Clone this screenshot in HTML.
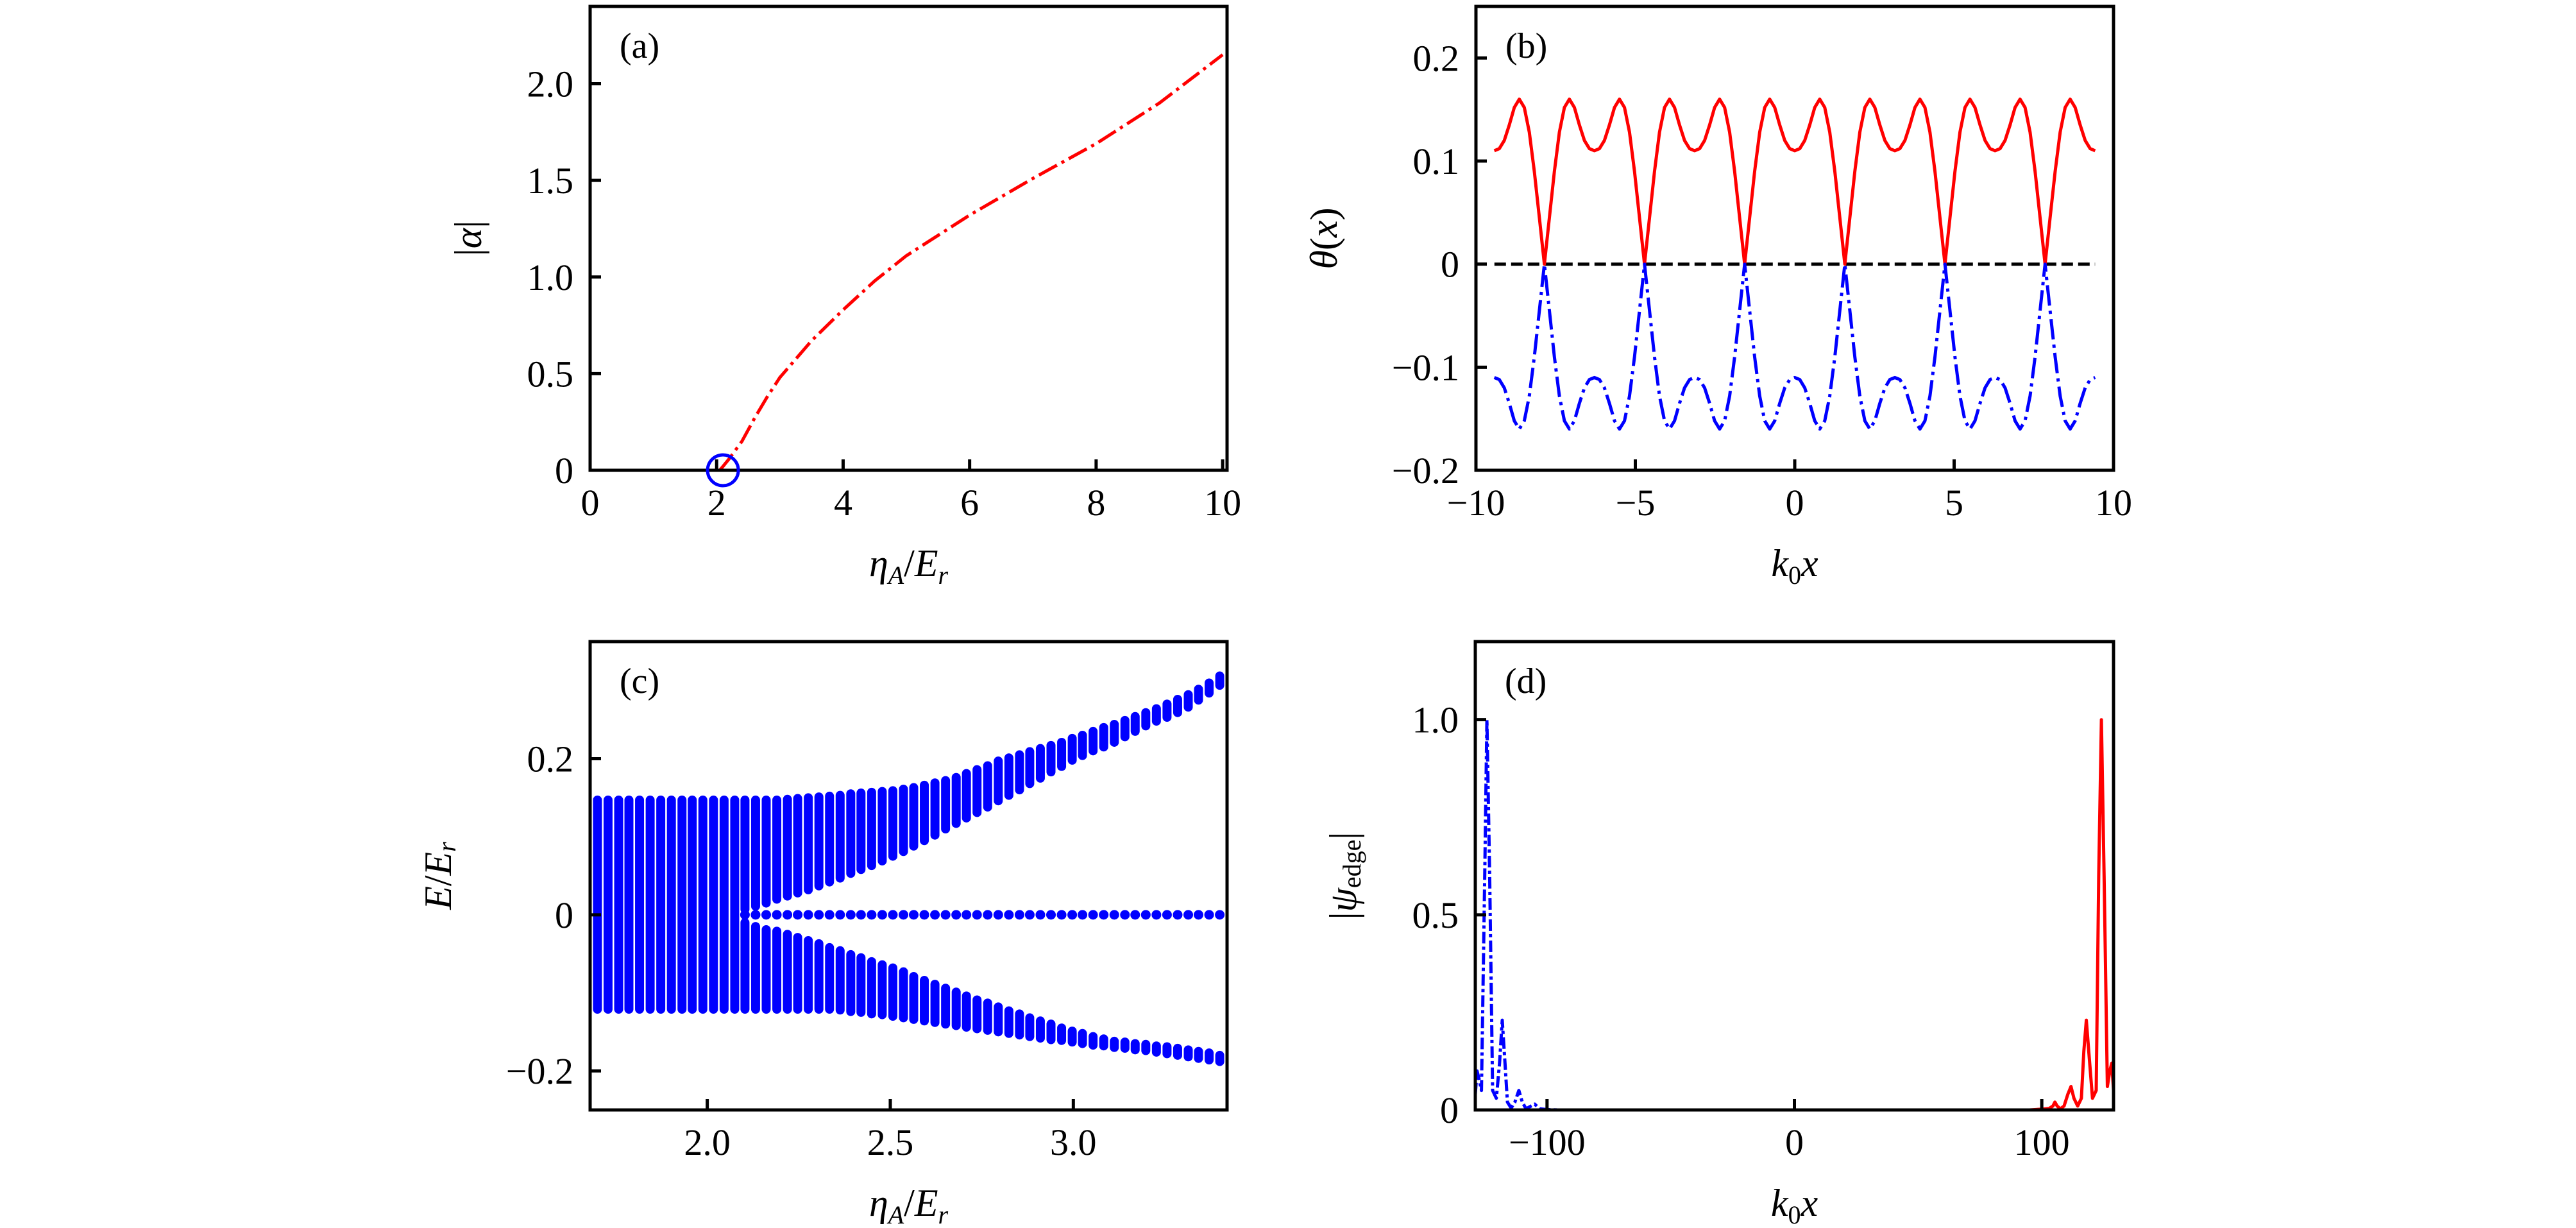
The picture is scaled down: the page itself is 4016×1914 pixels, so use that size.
<!DOCTYPE html>
<html><head><meta charset="utf-8">
<style>
html,body{margin:0;padding:0;background:#fff;}
svg{display:block;}
text{font-family:"Liberation Serif","DejaVu Serif",serif;fill:#000;}
</style></head>
<body>
<svg id="fig" xmlns="http://www.w3.org/2000/svg" width="4016" height="1914" viewBox="0 0 4016 1914"></svg>
<script>
// ---------- Panel (a) data ----------
const alphaEta = [2.05,2.1,2.2,2.4,2.6,2.8,3.0,3.5,4.0,4.5,5.0,6.0,7.0,8.0,9.0,10.0];
const alphaVal = [0,0.02,0.06,0.15,0.27,0.38,0.48,0.67,0.83,0.98,1.11,1.32,1.51,1.69,1.90,2.15];
const critEta = [2.1];
const critVal = [0];
const aXTicks = [0,2,4,6,8,10];
const aXLabels = ["0","2","4","6","8","10"];
const aYTicks = [0,0.5,1.0,1.5,2.0];
const aYLabels = ["0","0.5","1.0","1.5","2.0"];

// ---------- Panel (b) data ----------
const thetaStepPi = [-60,-59,-58,-57,-56,-55,-54,-53,-52,-51,-50,-49,-48,-47,-46,-45,-44,-43,-42,-41,-40,-39,-38,-37,-36,-35,-34,-33,-32,-31,-30,-29,-28,-27,-26,-25,-24,-23,-22,-21,-20,-19,-18,-17,-16,-15,-14,-13,-12,-11,-10,-9,-8,-7,-6,-5,-4,-3,-2,-1,0,1,2,3,4,5,6,7,8,9,10,11,12,13,14,15,16,17,18,19,20,21,22,23,24,25,26,27,28,29,30,31,32,33,34,35,36,37,38,39,40,41,42,43,44,45,46,47,48,49,50,51,52,53,54,55,56,57,58,59,60];
const thetaRed = [
0.11,0.112,0.12,0.135,0.152,0.16,0.152,0.128,0.09,0.045,0,0.045,0.09,0.128,0.152,0.16,0.152,0.135,0.12,0.112,
0.11,0.112,0.12,0.135,0.152,0.16,0.152,0.128,0.09,0.045,0,0.045,0.09,0.128,0.152,0.16,0.152,0.135,0.12,0.112,
0.11,0.112,0.12,0.135,0.152,0.16,0.152,0.128,0.09,0.045,0,0.045,0.09,0.128,0.152,0.16,0.152,0.135,0.12,0.112,
0.11,0.112,0.12,0.135,0.152,0.16,0.152,0.128,0.09,0.045,0,0.045,0.09,0.128,0.152,0.16,0.152,0.135,0.12,0.112,
0.11,0.112,0.12,0.135,0.152,0.16,0.152,0.128,0.09,0.045,0,0.045,0.09,0.128,0.152,0.16,0.152,0.135,0.12,0.112,
0.11,0.112,0.12,0.135,0.152,0.16,0.152,0.128,0.09,0.045,0,0.045,0.09,0.128,0.152,0.16,0.152,0.135,0.12,0.112,0.11];
const thetaBlue = [
-0.11,-0.112,-0.12,-0.135,-0.152,-0.16,-0.152,-0.128,-0.09,-0.045,0,-0.045,-0.09,-0.128,-0.152,-0.16,-0.152,-0.135,-0.12,-0.112,
-0.11,-0.112,-0.12,-0.135,-0.152,-0.16,-0.152,-0.128,-0.09,-0.045,0,-0.045,-0.09,-0.128,-0.152,-0.16,-0.152,-0.135,-0.12,-0.112,
-0.11,-0.112,-0.12,-0.135,-0.152,-0.16,-0.152,-0.128,-0.09,-0.045,0,-0.045,-0.09,-0.128,-0.152,-0.16,-0.152,-0.135,-0.12,-0.112,
-0.11,-0.112,-0.12,-0.135,-0.152,-0.16,-0.152,-0.128,-0.09,-0.045,0,-0.045,-0.09,-0.128,-0.152,-0.16,-0.152,-0.135,-0.12,-0.112,
-0.11,-0.112,-0.12,-0.135,-0.152,-0.16,-0.152,-0.128,-0.09,-0.045,0,-0.045,-0.09,-0.128,-0.152,-0.16,-0.152,-0.135,-0.12,-0.112,
-0.11,-0.112,-0.12,-0.135,-0.152,-0.16,-0.152,-0.128,-0.09,-0.045,0,-0.045,-0.09,-0.128,-0.152,-0.16,-0.152,-0.135,-0.12,-0.112,-0.11];
const bXTicks = [-10,-5,0,5,10];
const bXLabels = ["\u221210","\u22125","0","5","10"];
const bYTicks = [-0.2,-0.1,0,0.1,0.2];
const bYLabels = ["\u22120.2","\u22120.1","0","0.1","0.2"];

// ---------- Panel (c) data ----------
const cEta = [1.700,1.729,1.758,1.786,1.815,1.844,1.873,1.902,1.931,1.959,1.988,2.017,2.046,2.075,2.103,2.132,2.161,2.190,2.219,2.247,2.276,2.305,2.334,2.363,2.392,2.420,2.449,2.478,2.507,2.536,2.564,2.593,2.622,2.651,2.680,2.708,2.737,2.766,2.795,2.824,2.853,2.881,2.910,2.939,2.968,2.997,3.025,3.054,3.083,3.112,3.141,3.169,3.198,3.227,3.256,3.285,3.314,3.342,3.371,3.400];
const upTop = [0.147,0.147,0.147,0.147,0.147,0.147,0.147,0.147,0.147,0.147,0.147,0.147,0.147,0.147,0.147,0.147,0.147,0.147,0.148,0.149,0.150,0.151,0.152,0.153,0.155,0.156,0.157,0.158,0.159,0.161,0.163,0.166,0.169,0.172,0.176,0.181,0.186,0.191,0.197,0.201,0.205,0.209,0.213,0.217,0.221,0.226,0.230,0.235,0.240,0.244,0.249,0.254,0.259,0.264,0.270,0.276,0.282,0.289,0.297,0.306];
const upBot = [0,0,0,0,0,0,0,0,0,0,0,0,0,0,0.007,0.011,0.015,0.020,0.024,0.028,0.032,0.037,0.042,0.047,0.053,0.058,0.063,0.069,0.075,0.081,0.088,0.095,0.102,0.110,0.117,0.124,0.131,0.138,0.146,0.153,0.160,0.168,0.175,0.183,0.190,0.198,0.204,0.210,0.215,0.221,0.228,0.235,0.242,0.248,0.253,0.259,0.266,0.275,0.284,0.294];
const loTop = [0,0,0,0,0,0,0,0,0,0,0,0,0,0,-0.010,-0.015,-0.019,-0.021,-0.025,-0.029,-0.033,-0.037,-0.042,-0.046,-0.051,-0.055,-0.060,-0.064,-0.068,-0.073,-0.079,-0.084,-0.089,-0.094,-0.099,-0.104,-0.109,-0.113,-0.118,-0.123,-0.127,-0.132,-0.136,-0.140,-0.145,-0.149,-0.152,-0.156,-0.159,-0.162,-0.163,-0.165,-0.166,-0.168,-0.169,-0.171,-0.173,-0.175,-0.177,-0.180];
const loBot = [-0.121,-0.121,-0.121,-0.121,-0.121,-0.121,-0.121,-0.121,-0.121,-0.121,-0.121,-0.121,-0.121,-0.121,-0.121,-0.121,-0.121,-0.121,-0.121,-0.121,-0.121,-0.121,-0.121,-0.122,-0.124,-0.125,-0.127,-0.128,-0.130,-0.132,-0.134,-0.136,-0.138,-0.140,-0.142,-0.144,-0.146,-0.148,-0.150,-0.152,-0.154,-0.156,-0.158,-0.160,-0.161,-0.163,-0.165,-0.167,-0.168,-0.170,-0.171,-0.173,-0.174,-0.176,-0.178,-0.180,-0.182,-0.184,-0.186,-0.188];
const zeroMode = [null,null,null,null,null,null,null,null,null,null,null,null,null,null,0,0,0,0,0,0,0,0,0,0,0,0,0,0,0,0,0,0,0,0,0,0,0,0,0,0,0,0,0,0,0,0,0,0,0,0,0,0,0,0,0,0,0,0,0,0];
const cXTicks = [2.0,2.5,3.0];
const cXLabels = ["2.0","2.5","3.0"];
const cYTicks = [-0.2,0,0.2];
const cYLabels = ["\u22120.2","0","0.2"];

// ---------- Panel (d) data ----------
const edgeBlueX = [-129,-128.3,-127.5,-126.5,-125.2,-124.3,-123.2,-122,-120.5,-119.2,-118.1,-117,-116,-114.5,-113,-111.4,-110,-108.5,-107,-105,-103,-100,-95];
const edgeBlueY = [0.04,0.1,0.08,0.05,0.6,1.0,0.6,0.05,0.03,0.12,0.23,0.12,0.02,0.005,0.02,0.05,0.02,0.003,0.008,0.015,0.003,0.001,0];
const edgeRedX = [95,100,103,104.5,105.3,106.2,107.5,109,110.5,111.8,113,114.5,116,117,118,119,120.5,122,123,124.1,125.2,126.5,127.5,128.3,129];
const edgeRedY = [0,0.002,0.004,0.01,0.02,0.01,0.003,0.01,0.04,0.06,0.03,0.01,0.03,0.15,0.23,0.15,0.03,0.05,0.6,1.0,0.6,0.06,0.1,0.12,0.05];
const dXTicks = [-100,0,100];
const dXLabels = ["\u2212100","0","100"];
const dYTicks = [0,0.5,1.0];
const dYLabels = ["0","0.5","1.0"];

// ---------- drawing ----------
const NS = "http://www.w3.org/2000/svg";
const svg = document.getElementById('fig');
function el(tag, attrs, parent){
  const e = document.createElementNS(NS, tag);
  for (const k in attrs) e.setAttribute(k, attrs[k]);
  (parent||svg).appendChild(e);
  return e;
}
function lin(d0,d1,p0,p1){ return v => p0 + (v-d0)*(p1-p0)/(d1-d0); }

function makeAxes(cfg){
  const g = el('g', {});
  
  
  const sx = lin(cfg.xlim[0], cfg.xlim[1], cfg.L, cfg.R);
  const sy = lin(cfg.ylim[0], cfg.ylim[1], cfg.B, cfg.T);
  const clipId = cfg.name + '-clip';
  const cp = el('clipPath', {id: clipId}, g);
  el('rect', {x: cfg.L, y: cfg.T, width: cfg.R-cfg.L, height: cfg.B-cfg.T}, cp);
  const plot = el('g', {'clip-path': 'url(#' + clipId + ')'}, g);
  
  
  cfg.xTicks.forEach((t, i) => {
    const x = sx(t);
    const tk = el('line', {x1: x, x2: x, y1: cfg.B, y2: cfg.B-17, stroke: '#000', 'stroke-width': 5}, g);
    
    
    const tl = el('text', {x: x, y: cfg.B+70, 'font-size': 58, 'text-anchor': 'middle'}, g);
    tl.textContent = cfg.xLabels[i];
    
    
  });
  cfg.yTicks.forEach((t, i) => {
    const y = sy(t);
    const tk = el('line', {x1: cfg.L, x2: cfg.L+17, y1: y, y2: y, stroke: '#000', 'stroke-width': 5}, g);
    
    
    const tl = el('text', {x: cfg.L-26, y: y+20, 'font-size': 58, 'text-anchor': 'end'}, g);
    tl.textContent = cfg.yLabels[i];
    
    
  });
  const fr = el('rect', {x: cfg.L, y: cfg.T, width: cfg.R-cfg.L, height: cfg.B-cfg.T, fill: 'none', stroke: '#000', 'stroke-width': 5}, g);
  
  
  const pl = el('text', {x: cfg.L+46, y: cfg.T+80, 'font-size': 56}, g);
  pl.textContent = cfg.panel;
  
  
  const xl = el('text', {x: (cfg.L+cfg.R)/2, y: cfg.B+165, 'font-size': 60, 'text-anchor': 'middle', 'font-style': 'italic'}, g);
  xl.innerHTML = cfg.xTitle;
  
  
  const cy = (cfg.T+cfg.B)/2;
  const yl = el('text', {x: cfg.yTitleX, y: cy, 'font-size': 60, 'text-anchor': 'middle', 'font-style': 'italic', transform: 'rotate(-90 ' + cfg.yTitleX + ' ' + cy + ')', 'dominant-baseline': 'middle'}, g);
  yl.innerHTML = cfg.yTitle;
  
  
  return {sx, sy, plot, g};
}
function poly(parent, xs, ys, sx, sy, style, name){
  const pts = xs.map((x, i) => sx(x).toFixed(1) + ',' + sy(ys[i]).toFixed(1)).join(' ');
  const p = el('polyline', Object.assign({points: pts, fill: 'none', 'stroke-linejoin': 'round'}, style), parent);
  
  
  return p;
}

// Panel a
const A = makeAxes({name: 'panel-a', panel: '(a)', L: 920, R: 1913, T: 10, B: 733, xlim: [0, 10.07], ylim: [0, 2.4],
  xTicks: aXTicks, xLabels: aXLabels, yTicks: aYTicks, yLabels: aYLabels,
  xTitle: 'η<tspan font-size="40" dy="12">A</tspan><tspan dy="-12" font-style="normal">/</tspan>E<tspan font-size="40" dy="12">r</tspan>',
  yTitle: '<tspan font-style="normal">|</tspan>α<tspan font-style="normal">|</tspan>', yTitleX: 736});
poly(A.plot, alphaEta, alphaVal, A.sx, A.sy, {stroke: '#ff0000', 'stroke-width': 5, 'stroke-dasharray': '32,8,5,8'}, 'alpha-curve');
critEta.forEach((e, i) => {
  const c = el('circle', {cx: A.sx(e), cy: A.sy(critVal[i]), r: 24, fill: 'none', stroke: '#0000ff', 'stroke-width': 5}, A.g);
  
  
});

// Panel b
const thetaX = thetaStepPi.map(s => s * Math.PI / 20);
const B = makeAxes({name: 'panel-b', panel: '(b)', L: 2301, R: 3295, T: 10, B: 733, xlim: [-10, 10], ylim: [-0.2, 0.25],
  xTicks: bXTicks, xLabels: bXLabels, yTicks: bYTicks, yLabels: bYLabels,
  xTitle: 'k<tspan font-size="40" dy="12" font-style="normal">0</tspan><tspan dy="-12">x</tspan>',
  yTitle: 'θ<tspan font-style="normal">(</tspan>x<tspan font-style="normal">)</tspan>', yTitleX: 2070});
poly(B.plot, [-9.42, 9.42], [0, 0], B.sx, B.sy, {stroke: '#000', 'stroke-width': 5, 'stroke-dasharray': '18,8'}, 'zero-reference-line');
poly(B.plot, thetaX, thetaRed, B.sx, B.sy, {stroke: '#ff0000', 'stroke-width': 5}, 'theta-positive-curve');
poly(B.plot, thetaX, thetaBlue, B.sx, B.sy, {stroke: '#0000ff', 'stroke-width': 5, 'stroke-dasharray': '32,8,5,8'}, 'theta-negative-curve');

// Panel c
const C = makeAxes({name: 'panel-c', panel: '(c)', L: 920, R: 1913, T: 1000, B: 1730, xlim: [1.68, 3.42], ylim: [-0.25, 0.35],
  xTicks: cXTicks, xLabels: cXLabels, yTicks: cYTicks, yLabels: cYLabels,
  xTitle: 'η<tspan font-size="40" dy="12">A</tspan><tspan dy="-12" font-style="normal">/</tspan>E<tspan font-size="40" dy="12">r</tspan>',
  yTitle: 'E<tspan font-style="normal">/</tspan>E<tspan font-size="40" dy="12">r</tspan>', yTitleX: 689});
cEta.forEach((e, i) => {
  const x = C.sx(e);
  const segs = zeroMode[i] === null ? [[loBot[i], upTop[i]]] : [[loBot[i], loTop[i]], [upBot[i], upTop[i]]];
  segs.forEach(s => {
    const b = el('line', {x1: x, x2: x, y1: C.sy(s[0]), y2: C.sy(s[1]), stroke: '#0000ff', 'stroke-width': 14, 'stroke-linecap': 'round'}, C.plot);
    
    
  });
  if (zeroMode[i] !== null) {
    const d = el('circle', {cx: x, cy: C.sy(zeroMode[i]), r: 7.5, fill: '#0000ff'}, C.plot);
    
    
  }
});

// Panel d
const D = makeAxes({name: 'panel-d', panel: '(d)', L: 2300, R: 3295, T: 1000, B: 1730, xlim: [-129, 129], ylim: [0, 1.2],
  xTicks: dXTicks, xLabels: dXLabels, yTicks: dYTicks, yLabels: dYLabels,
  xTitle: 'k<tspan font-size="40" dy="12" font-style="normal">0</tspan><tspan dy="-12">x</tspan>',
  yTitle: '<tspan font-style="normal">|</tspan>ψ<tspan font-size="40" dy="12" font-style="normal">edge</tspan><tspan dy="-12" font-style="normal">|</tspan>', yTitleX: 2100});
poly(D.plot, edgeBlueX, edgeBlueY, D.sx, D.sy, {stroke: '#0000ff', 'stroke-width': 5, 'stroke-dasharray': '18,5,5,5'}, 'left-edge-state');
poly(D.plot, edgeRedX, edgeRedY, D.sx, D.sy, {stroke: '#ff0000', 'stroke-width': 5}, 'right-edge-state');
</script>
</body></html>
